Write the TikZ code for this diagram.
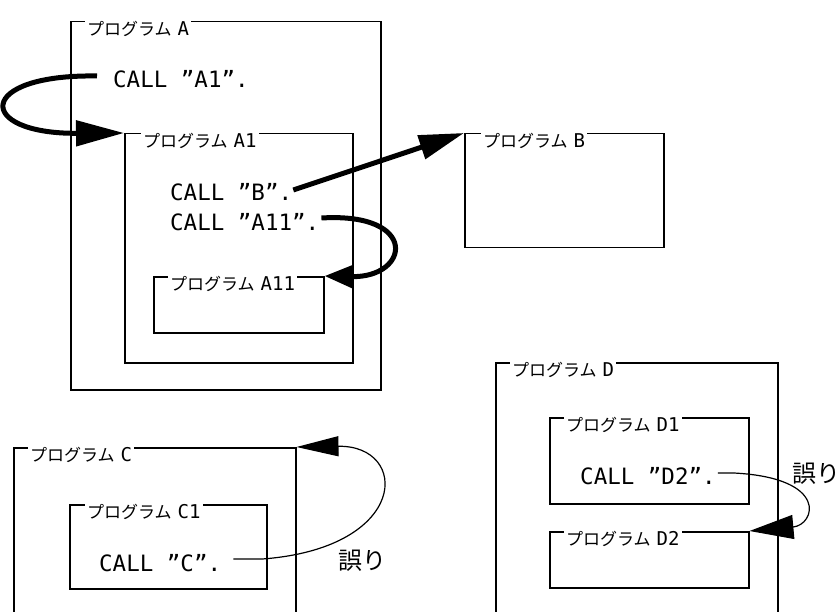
\documentclass[tikz,border=0pt]{standalone}
\usepackage{fontspec}
\newfontfamily\cjkjp{Noto Sans CJK JP}
\newfontfamily\monolat{DejaVu Sans Mono}
\usetikzlibrary{arrows.meta,calc}
\newcommand\latn[1]{{\monolat\fontsize{19}{20}\selectfont #1}}
\tikzset{
  prog/.style n args={2}{draw, line width=1.5pt, anchor=north west, inner sep=0pt,
    minimum width=#1pt, minimum height=#2pt},
  ttl/.style={anchor=west, fill=white, inner xsep=2pt, inner ysep=1pt,
    font=\cjkjp\fontsize{17}{18}\selectfont},
  code/.style={anchor=west, inner sep=0pt, font=\monolat\fontsize{22.5}{24}\selectfont},
  err/.style={anchor=west, inner sep=0pt, font=\cjkjp\fontsize{24}{26}\selectfont},
  thickarrow/.style={line width=5pt},
  thinarrow/.style={line width=1.2pt},
}
\begin{document}
\begin{tikzpicture}[x=1pt,y=-1pt]
\useasboundingbox (0,0) rectangle (840,612);
\clip (0,0) rectangle (840,612);
% boxes
\node[prog={310}{368}] (A) at (70,21) {};
\node[prog={228}{229}] (A1) at (124,133) {};
\node[prog={170}{56}] (A11) at (153,276) {};
\node[prog={199}{114}] (B) at (464,133) {};
\node[prog={282}{200}] (C) at (13,447) {};
\node[prog={197}{84}] (C1) at (69,504) {};
\node[prog={282}{260}] (D) at (495,362) {};
\node[prog={199}{86}] (D1) at (549,417) {};
\node[prog={199}{56}] (D2) at (549,531) {};
% titles
\node[ttl] (tA) at ($(A.north west)+(15,8)$) {プログラム\hspace{6pt}\latn{A}\hspace{12pt}};
\node[ttl] (tA1) at ($(A1.north west)+(17,8)$) {プログラム\hspace{6pt}\latn{A1}};
\node[ttl] (tA11) at ($(A11.north west)+(15,8)$) {プログラム\hspace{6pt}\latn{A11}\hspace{10pt}};
\node[ttl] (tB) at ($(B.north west)+(17,8)$) {プログラム\hspace{6pt}\latn{B}\hspace{12pt}};
\node[ttl] (tC) at ($(C.north west)+(15,8)$) {プログラム\hspace{6pt}\latn{C}\hspace{12pt}};
\node[ttl] (tC1) at ($(C1.north west)+(16,8)$) {プログラム\hspace{6pt}\latn{C1}};
\node[ttl] (tD) at ($(D.north west)+(15,8)$) {プログラム\hspace{6pt}\latn{D}\hspace{12pt}};
\node[ttl] (tD1) at ($(D1.north west)+(15,8)$) {プログラム\hspace{6pt}\latn{D1}};
\node[ttl] (tD2) at ($(D2.north west)+(15,8)$) {プログラム\hspace{6pt}\latn{D2}};
% code lines
\node[code] (cA1) at (113,79) {CALL ”A1”.};
\node[code] (cB) at (170,192) {CALL ”B”.};
\node[code] (cA11) at (170,222) {CALL ”A11”.};
\node[code] (cC) at (99,563) {CALL ”C”.};
\node[code] (cD) at (580,476) {CALL ”D2”.};
% error labels
\node[err] (eC) at (338,561) {誤り};
\node[err] (eD) at (792,474) {誤り};
% connectors
\draw[thickarrow, -{Triangle[length=48pt,width=25pt]}]
  ($(cA1.west)+(-16,-3)$) .. controls (-25,74) and (-25,134) .. (A1.north west);
\draw[thickarrow, -{Triangle[length=45pt,width=24pt]}]
  ($(cB.east)+(1,-2)$) -- (B.north west);
\draw[thickarrow, -{Triangle[length=28pt,width=22pt]}]
  ($(cA11.east)+(2,-4)$) .. controls (420,212) and (410,278) .. (A11.north east);
\draw[thinarrow, -{Triangle[length=42pt,width=20pt]}]
  ($(cC.east)+(12,-4)$) -- ++(29,0) .. controls (410,548) and (410,445) .. (C.north east);
\draw[thinarrow, -{Triangle[length=44pt,width=24pt]}]
  ($(cD.east)+(2,-3)$) -- ++(16,0) .. controls (830,478) and (815,525) .. (D2.north east);
\end{tikzpicture}
\end{document}
